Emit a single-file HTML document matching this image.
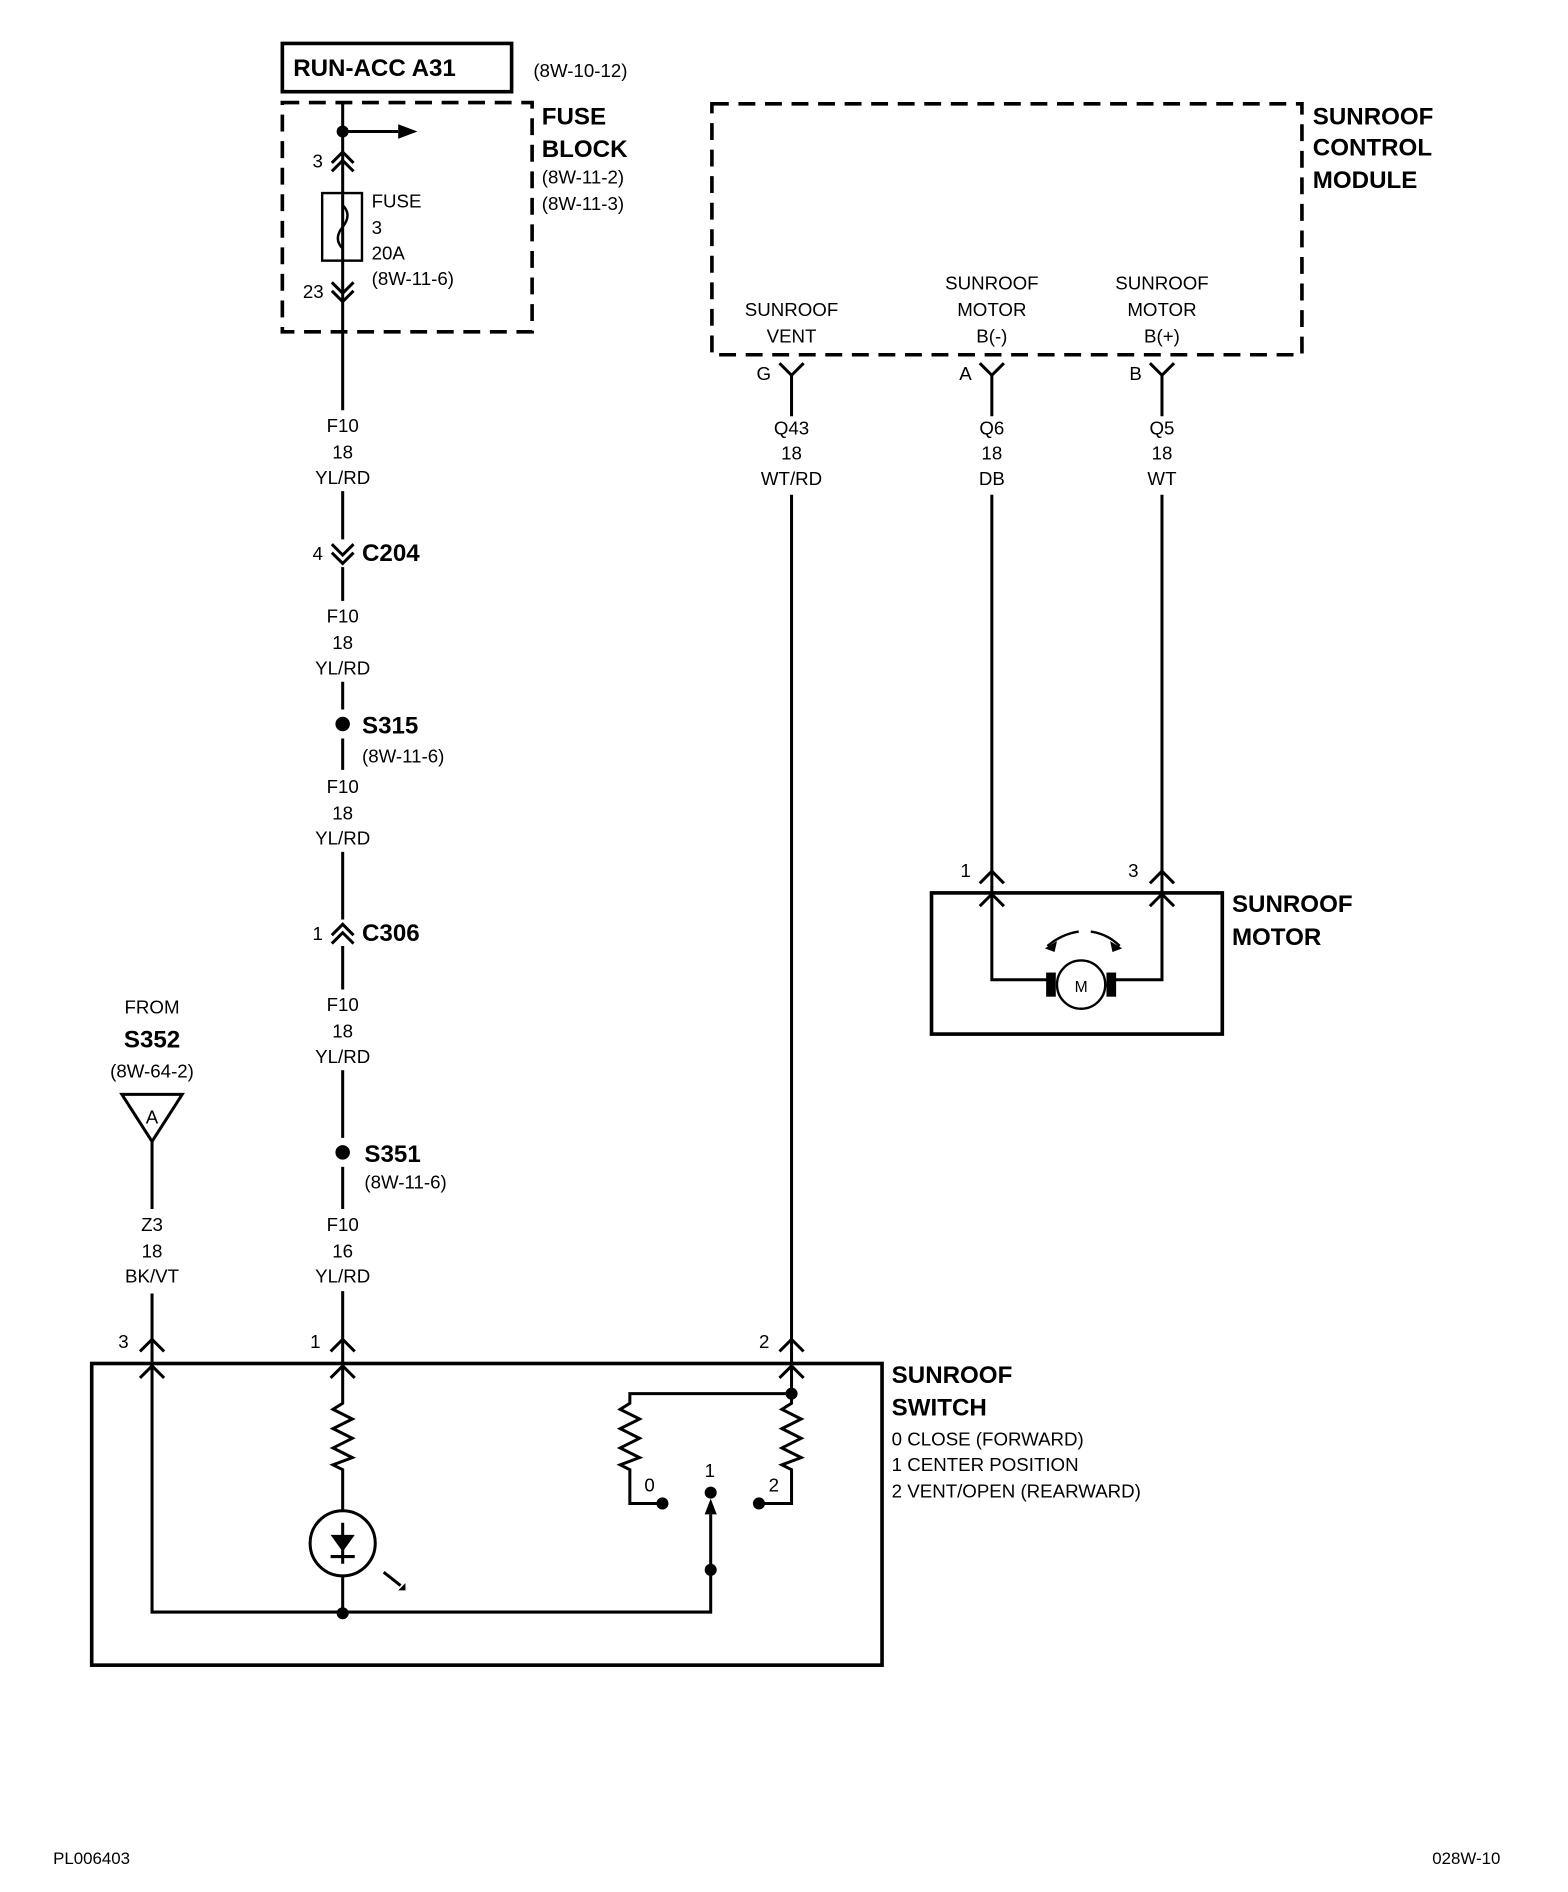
<!DOCTYPE html>
<html><head><meta charset="utf-8"><style>
html,body{margin:0;padding:0;background:#fff;}
svg{display:block}
text{font-family:"Liberation Sans",Arial,sans-serif;fill:#000;}
.b{font-weight:bold;font-size:20px}
.s{font-size:15.5px}
.m{text-anchor:middle}
</style></head><body>
<svg width="1568" height="1892" viewBox="0 0 1299.5 1568" preserveAspectRatio="none">
<g fill="none" stroke="#000" stroke-width="2.5">
<!-- top box -->
<rect x="234" y="36" width="190" height="40" stroke-width="3"/>
<rect x="234" y="85" width="207" height="190" stroke-width="3" stroke-dasharray="14 8"/>
<rect x="590" y="86" width="489" height="208" stroke-width="3" stroke-dasharray="14 8"/>
<!-- main wire segments -->
<path d="M284 85V340 M284 407V447 M284 470V498 M284 565V588 M284 612V638 M284 706V762 M284 784V820 M284 887V943 M284 967V1002 M284 1070V1130"/>
<path d="M284 109H330"/>
<!-- chevrons -->
<path d="M275 135L284 126L293 135 M275 142L284 133L293 142"/>
<path d="M275 234L284 243L293 234 M275 241L284 250L293 241"/>
<path d="M275 451L284 460L293 451 M275 458L284 467L293 458"/>
<path d="M275 775L284 766L293 775 M275 782L284 773L293 782"/>
<!-- fuse -->
<rect x="267" y="160" width="33" height="56" stroke-width="2"/>
<path d="M284 160V170 Q292 178 284 188 Q276 198 284 206 V216" stroke-width="2"/>
<!-- module pins -->
<path d="M646 301L656 311L666 301 M656 311V345 M656 410V1130"/>
<path d="M812 301L822 311L832 301 M822 311V345 M822 410V740"/>
<path d="M953 301L963 311L973 301 M963 311V345 M963 410V740"/>
<path d="M812 732L822 722L832 732 M953 732L963 722L973 732"/>
<!-- motor box -->
<rect x="772" y="740" width="241" height="117" stroke-width="3"/>
<path d="M812 751L822 741L832 751 M953 751L963 741L973 751"/>
<path d="M822 742V812H870 M922 812H963V742"/>
<circle cx="896" cy="816" r="20" stroke-width="2"/>
<path d="M868 784 Q880 774 894 772 M904 772 Q918 774 928 784" stroke-width="2"/>
<!-- left feed -->
<path d="M101 907H151L126 946Z"/>
<path d="M126 946V1002 M126 1072V1130"/>
<path d="M116 1120L126 1110L136 1120 M274 1120L284 1110L294 1120 M646 1120L656 1110L666 1120"/>
<!-- switch -->
<rect x="76" y="1130" width="655" height="250" stroke-width="3"/>
<path d="M116 1142L126 1132L136 1142 M274 1142L284 1132L294 1142 M646 1142L656 1132L666 1142"/>
<path d="M126 1133V1336H589V1255"/>
<path d="M284 1133V1163 L276 1168 L292 1176 L276 1184 L292 1192 L276 1200 L292 1208 L276 1214 L284 1218 V1252 M284 1306V1337"/>
<circle cx="284" cy="1279" r="27"/>
<path d="M284 1262V1296 M274 1290H294" />
<path d="M318 1303L332 1314"/>
<path d="M656 1133V1155H522V1163 L514 1168 L530 1176 L514 1184 L530 1192 L514 1200 L530 1208 L514 1214 L522 1218 V1246H549"/>
<path d="M656 1155V1163 L648 1168 L664 1176 L648 1184 L664 1192 L648 1200 L664 1208 L648 1214 L656 1218 V1246H629"/>
</g>
<g fill="#000">
<circle cx="284" cy="109" r="5"/>
<path d="M330 103L346 109L330 115Z"/>
<circle cx="284" cy="600" r="6"/>
<circle cx="284" cy="955" r="6"/>
<rect x="867" y="806" width="8" height="20"/><rect x="917" y="806" width="8" height="20"/>
<path d="M866 786L876 780L874 789Z M930 786L920 780L922 789Z"/>
<path d="M274 1272H294L284 1286Z"/>
<path d="M330 1318L336 1318L336 1312Z"/>
<circle cx="284" cy="1337" r="5"/>
<circle cx="589" cy="1301" r="5"/>
<path d="M584 1255L589 1242L594 1255Z"/>
<circle cx="589" cy="1237" r="5"/>
<circle cx="549" cy="1246" r="5"/><circle cx="629" cy="1246" r="5"/>
<circle cx="656" cy="1155" r="5"/>
</g>
<text x="243" y="63" class="b">RUN-ACC A31</text>
<text x="442" y="64" class="s">(8W-10-12)</text>
<text x="449" y="103" class="b">FUSE</text>
<text x="449" y="130" class="b">BLOCK</text>
<text x="449" y="152" class="s">(8W-11-2)</text>
<text x="449" y="174" class="s">(8W-11-3)</text>
<text x="259" y="139" class="s">3</text>
<text x="308" y="172" class="s">FUSE</text>
<text x="308" y="194" class="s">3</text>
<text x="308" y="215" class="s">20A</text>
<text x="308" y="236" class="s">(8W-11-6)</text>
<text x="251" y="247" class="s">23</text>
<g class="s m">
<text x="284" y="358" class="m">F10</text><text x="284" y="380" class="m">18</text><text x="284" y="401" class="m">YL/RD</text>
<text x="284" y="516" class="m">F10</text><text x="284" y="538" class="m">18</text><text x="284" y="559" class="m">YL/RD</text>
<text x="284" y="657" class="m">F10</text><text x="284" y="679" class="m">18</text><text x="284" y="700" class="m">YL/RD</text>
<text x="284" y="838" class="m">F10</text><text x="284" y="860" class="m">18</text><text x="284" y="881" class="m">YL/RD</text>
<text x="284" y="1020" class="m">F10</text><text x="284" y="1042" class="m">16</text><text x="284" y="1063" class="m">YL/RD</text>
<text x="126" y="1020" class="m">Z3</text><text x="126" y="1042" class="m">18</text><text x="126" y="1063" class="m">BK/VT</text>
<text x="656" y="360" class="m">Q43</text><text x="656" y="381" class="m">18</text><text x="656" y="402" class="m">WT/RD</text>
<text x="822" y="360" class="m">Q6</text><text x="822" y="381" class="m">18</text><text x="822" y="402" class="m">DB</text>
<text x="963" y="360" class="m">Q5</text><text x="963" y="381" class="m">18</text><text x="963" y="402" class="m">WT</text>
<text x="656" y="262" class="m">SUNROOF</text><text x="656" y="284" class="m">VENT</text>
<text x="822" y="240" class="m">SUNROOF</text><text x="822" y="262" class="m">MOTOR</text><text x="822" y="284" class="m">B(-)</text>
<text x="963" y="240" class="m">SUNROOF</text><text x="963" y="262" class="m">MOTOR</text><text x="963" y="284" class="m">B(+)</text>
<text x="126" y="840" class="m">FROM</text>
<text x="126" y="893" class="m">(8W-64-2)</text>
<text x="126" y="931" class="m">A</text>
<text x="896" y="822" class="m" style="font-size:13px">M</text>
</g>
<text x="259" y="464" class="s">4</text><text x="300" y="465" class="b">C204</text>
<text x="300" y="608" class="b">S315</text><text x="300" y="632" class="s">(8W-11-6)</text>
<text x="259" y="779" class="s">1</text><text x="300" y="780" class="b">C306</text>
<text x="302" y="963" class="b">S351</text><text x="302" y="985" class="s">(8W-11-6)</text>
<text x="126" y="868" class="b m" text-anchor="middle">S352</text>
<text x="1088" y="103" class="b">SUNROOF</text>
<text x="1088" y="129" class="b">CONTROL</text>
<text x="1088" y="156" class="b">MODULE</text>
<text x="627" y="315" class="s">G</text><text x="795" y="315" class="s">A</text><text x="936" y="315" class="s">B</text>
<text x="796" y="727" class="s">1</text><text x="935" y="727" class="s">3</text>
<text x="1021" y="756" class="b">SUNROOF</text><text x="1021" y="783" class="b">MOTOR</text>
<text x="98" y="1117" class="s">3</text><text x="257" y="1117" class="s">1</text><text x="629" y="1117" class="s">2</text>
<text x="534" y="1236" class="s">0</text><text x="584" y="1224" class="s">1</text><text x="637" y="1236" class="s">2</text>
<text x="739" y="1146" class="b">SUNROOF</text><text x="739" y="1173" class="b">SWITCH</text>
<text x="739" y="1198" class="s">0 CLOSE (FORWARD)</text>
<text x="739" y="1219" class="s">1 CENTER POSITION</text>
<text x="739" y="1241" class="s">2 VENT/OPEN (REARWARD)</text>
<text x="44" y="1545" style="font-size:14px">PL006403</text>
<text x="1187" y="1545" style="font-size:14px">028W-10</text>
</svg>
</body></html>
